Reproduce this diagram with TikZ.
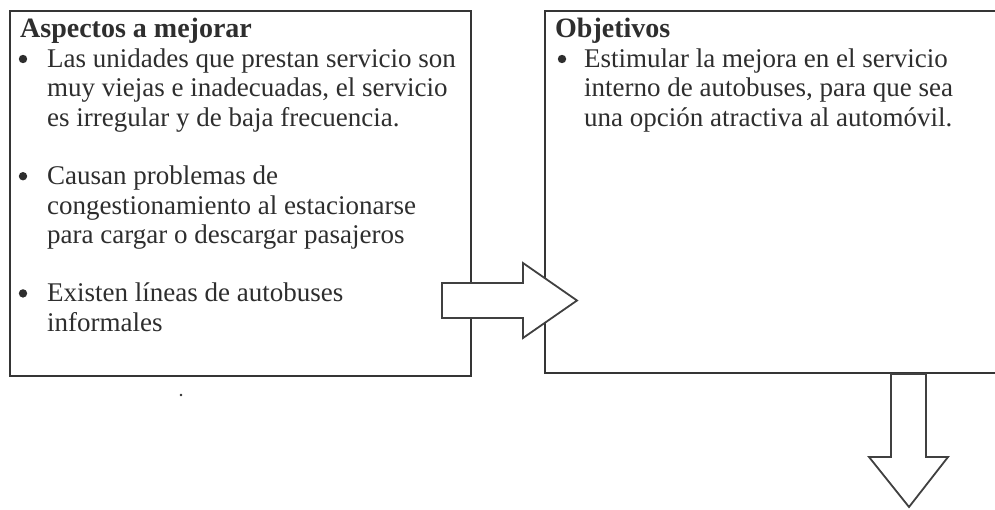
\documentclass[tikz,border=0pt]{standalone}
\usepackage{fontspec}
\setmainfont{Liberation Serif}
\definecolor{boxc}{HTML}{353535}
\definecolor{txtc}{HTML}{2E2E2E}
\definecolor{arrc}{HTML}{404040}
\begin{document}
\begin{tikzpicture}[x=1pt,y=-1pt,
  boxline/.style={draw=boxc, line width=2.8pt, inner sep=0pt, outer sep=0pt, anchor=north west},
  txt/.style={anchor=base west, inner sep=0pt, text=txtc, font=\fontsize{27pt}{29.5pt}\selectfont},
  ttl/.style={anchor=base west, inner sep=0pt, text=txtc, font=\fontsize{28pt}{29.5pt}\selectfont\bfseries},
  blockarrow/.style={draw=arrc, line width=1.8pt, fill=white, line join=miter}]
\useasboundingbox (0,0) rectangle (995,509);
\fill[white] (0,0) rectangle (995,509);
% boxes
\node[boxline, minimum width=461pt, minimum height=365pt] (aspectos) at (10,11) {};
\node[boxline, minimum width=465pt, minimum height=362pt] (objetivos) at (545,11) {};
% left box text
\node[ttl] (t1) at (20,37.5) {Aspectos a mejorar};
\fill[txtc] (23,59) circle (4.2pt);
\node[txt] (a1) at (47,67.5) {Las unidades que prestan servicio son};
\node[txt] (a2) at (47,96.8) {muy viejas e inadecuadas, el servicio};
\node[txt] (a3) at (47,126.1) {es irregular y de baja frecuencia.};
\fill[txtc] (23,176.2) circle (4.2pt);
\node[txt] (b1) at (47,184.7) {Causan problemas de};
\node[txt] (b2) at (47,214) {congestionamiento al estacionarse};
\node[txt] (b3) at (47,243.3) {para cargar o descargar pasajeros};
\fill[txtc] (23,293.4) circle (4.2pt);
\node[txt] (c1) at (47,301.9) {Existen líneas de autobuses};
\node[txt] (c2) at (47,331.2) {informales};
% right box text
\node[ttl] (t2) at (555,37.5) {Objetivos};
\fill[txtc] (562,59) circle (4.2pt);
\node[txt] (d1) at (584,67.5) {Estimular la mejora en el servicio};
\node[txt] (d2) at (584,96.8) {interno de autobuses, para que sea};
\node[txt] (d3) at (584,126.1) {una opción atractiva al automóvil.};
% block arrows
\draw[blockarrow] (442,283) -- (523,283) -- (523,263) -- (577,300.5) -- (523,338) -- (523,318) -- (442,318) -- cycle;
\draw[blockarrow] (891,374) -- (891,457) -- (869,457) -- (909,507) -- (948,457) -- (926,457) -- (926,374) -- cycle;
% speck
\fill[txtc] (181,395) circle (1.3pt);
\end{tikzpicture}
\end{document}
